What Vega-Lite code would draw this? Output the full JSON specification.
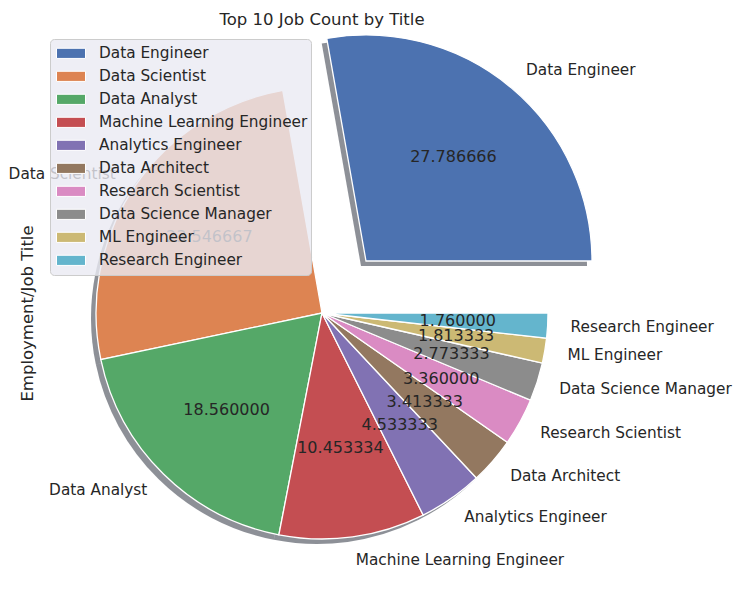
{
  "$schema": "https://vega.github.io/schema/vega-lite/v6.json",
  "width": 452,
  "height": 452,
  "autosize": {"type": "none"},
  "padding": {"left": 96, "top": 87, "right": 193, "bottom": 66},
  "background": "white",
  "title": {
    "text": "Top 10 Job Count by Title",
    "font": "DejaVu Sans",
    "fontSize": 16.5,
    "fontWeight": "normal",
    "color": "#262626",
    "anchor": "middle",
    "frame": "group",
    "baseline": "alphabetic",
    "offset": -9
  },
  "config": {"view": {"stroke": null}},
  "data": {
    "values": [
      {"title": "Data Engineer", "value": 27.786666, "share": 100},
      {"title": "Data Scientist", "value": 23.546667, "share": 91.9},
      {"title": "Data Analyst", "value": 18.56, "share": 67.1},
      {"title": "Machine Learning Engineer", "value": 10.453334, "share": 37.6},
      {"title": "Analytics Engineer", "value": 4.533333, "share": 16.5},
      {"title": "Data Architect", "value": 3.413333, "share": 12.0},
      {"title": "Research Scientist", "value": 3.36, "share": 12.2},
      {"title": "Data Science Manager", "value": 2.773333, "share": 9.9},
      {"title": "ML Engineer", "value": 1.813333, "share": 6.4},
      {"title": "Research Engineer", "value": 1.76, "share": 6.4}
    ]
  },
  "layer": [
    {
      "mark": {"type": "rule", "opacity": 0},
      "encoding": {
        "y": {
          "field": "value",
          "type": "quantitative",
          "axis": {
            "title": "Employment/Job Title",
            "titleFont": "DejaVu Sans",
            "titleFontSize": 16.5,
            "titleFontWeight": "normal",
            "titleColor": "#262626",
            "labels": false,
            "ticks": false,
            "domain": false,
            "grid": false,
            "minExtent": 0,
            "maxExtent": 0,
            "titlePadding": 61
          }
        }
      }
    },
    {
      "encoding": {
        "theta": {"field": "share", "type": "quantitative", "stack": true, "scale": {"range": [1.5707963, -4.712389]}},
        "order": {"field": "value", "sort": "descending"}
      },
      "layer": [
        {
          "mark": {"type": "arc", "xOffset": -5, "yOffset": 5, "fill": "#1b2230"},
          "encoding": {
            "opacity": {"condition": {"test": "datum.title === 'Data Engineer'", "value": 0}, "value": 0.5}
          }
        },
        {
          "mark": {"type": "arc", "xOffset": 39, "yOffset": -47, "fill": "#1b2230"},
          "encoding": {
            "opacity": {"condition": {"test": "datum.title === 'Data Engineer'", "value": 0.5}, "value": 0}
          }
        },
        {
          "mark": {"type": "arc", "stroke": "white", "strokeWidth": 1.3},
          "encoding": {
            "color": {
              "field": "title",
              "type": "nominal",
              "sort": null,
              "scale": {
                "domain": ["Data Engineer", "Data Scientist", "Data Analyst", "Machine Learning Engineer", "Analytics Engineer", "Data Architect", "Research Scientist", "Data Science Manager", "ML Engineer", "Research Engineer"],
                "range": ["#4c72b0", "#dd8452", "#55a868", "#c44e52", "#8172b3", "#937860", "#da8bc3", "#8c8c8c", "#ccb974", "#64b5cd"]
              },
              "legend": {
                "orient": "none",
                "legendX": -46,
                "legendY": -48,
                "title": null,
                "labelFont": "DejaVu Sans",
                "labelFontSize": 15.3,
                "labelColor": "#262626",
                "labelOffset": 13,
                "labelLimit": 400,
                "symbolType": "M-1,-0.35L1,-0.35L1,0.35L-1,0.35Z",
                "symbolSize": 841,
                "symbolOffset": 3,
                "symbolStrokeColor": "white",
                "symbolStrokeWidth": 1,
                "symbolOpacity": 1,
                "clipHeight": 22.7,
                "fillColor": "rgba(234,234,242,0.8)",
                "strokeColor": "#cccccc",
                "cornerRadius": 4,
                "padding": 3,
                "rowPadding": 0
              }
            },
            "opacity": {"condition": {"test": "datum.title === 'Data Engineer'", "value": 0}, "value": 1}
          }
        },
        {
          "mark": {"type": "arc", "stroke": "white", "strokeWidth": 1.3, "xOffset": 44, "yOffset": -52},
          "encoding": {
            "color": {"field": "title", "type": "nominal", "sort": null},
            "opacity": {"condition": {"test": "datum.title === 'Data Engineer'", "value": 1}, "value": 0}
          }
        },
        {
          "mark": {"type": "text", "radius": 136, "font": "DejaVu Sans", "fontSize": 16, "fill": "#262626", "align": "center", "baseline": "middle"},
          "encoding": {
            "text": {"field": "value", "type": "quantitative", "format": ".6f", "condition": {"test": "datum.title === 'Data Engineer'", "value": ""}}
          }
        },
        {
          "mark": {"type": "text", "radius": 136, "xOffset": 44, "yOffset": -52, "font": "DejaVu Sans", "fontSize": 16, "fill": "#262626", "align": "center", "baseline": "middle"},
          "encoding": {
            "text": {"condition": {"test": "datum.title === 'Data Engineer'", "field": "value", "type": "quantitative", "format": ".6f"}, "value": ""}
          }
        },
        {
          "mark": {"type": "text", "radius": 249, "font": "DejaVu Sans", "fontSize": 15.3, "fill": "#262626", "align": "left", "baseline": "middle"},
          "encoding": {
            "text": {"condition": {"test": "indexof(['Machine Learning Engineer','Analytics Engineer','Data Architect','Research Scientist','Data Science Manager','ML Engineer','Research Engineer'], datum.title) >= 0", "field": "title", "type": "nominal"}, "value": ""}
          }
        },
        {
          "mark": {"type": "text", "radius": 249, "font": "DejaVu Sans", "fontSize": 15.3, "fill": "#262626", "align": "right", "baseline": "middle"},
          "encoding": {
            "text": {"condition": {"test": "indexof(['Data Scientist','Data Analyst'], datum.title) >= 0", "field": "title", "type": "nominal"}, "value": ""}
          }
        },
        {
          "mark": {"type": "text", "radius": 249, "xOffset": 44, "yOffset": -52, "font": "DejaVu Sans", "fontSize": 15.3, "fill": "#262626", "align": "left", "baseline": "middle"},
          "encoding": {
            "text": {"condition": {"test": "datum.title === 'Data Engineer'", "field": "title", "type": "nominal"}, "value": ""}
          }
        }
      ]
    }
  ]
}
